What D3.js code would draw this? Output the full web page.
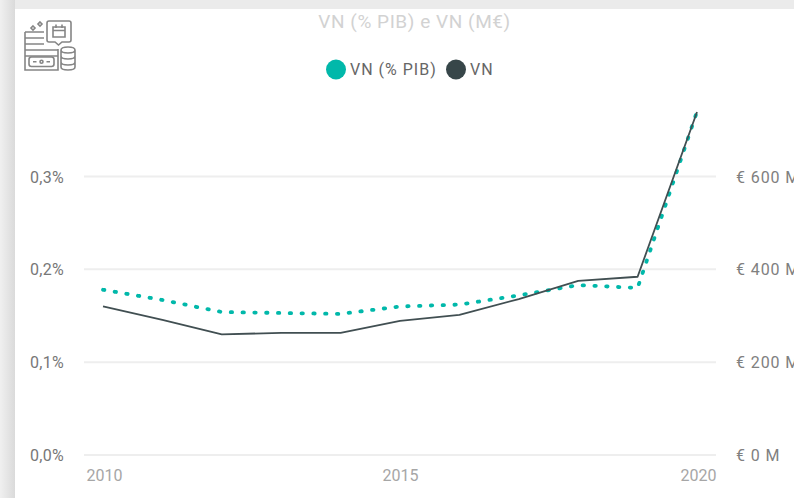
<!DOCTYPE html>
<html>
<head>
<meta charset="utf-8">
<script src="https://cdn.jsdelivr.net/npm/d3@7"></script>
<style>
  html, body { margin: 0; padding: 0; background: #fff; overflow: hidden; }
  text { font-family: Roboto, sans-serif; }
  .domain { display: none; }
</style>
</head>
<body>
<div id="chart"></div>
<script>
// valores
const years = [2010, 2011, 2012, 2013, 2014, 2015, 2016, 2017, 2018, 2019, 2020];
const vnPib = [0.178, 0.167, 0.154, 0.153, 0.152, 0.160, 0.162, 0.172, 0.183, 0.180, 0.370];
const vnMil = [320, 291, 260, 263, 263, 289, 302, 336, 375, 384, 739];
const yearTicks = [2010, 2015, 2020];
const pibTicks = [0, 0.1, 0.2, 0.3];
const pibLabels = ["0,0%", "0,1%", "0,2%", "0,3%"];
const milTicks = [0, 200, 400, 600];
const milLabels = ["€ 0 M", "€ 200 M", "€ 400 M", "€ 600 M"];
const legendNames = ["VN (% PIB)", "VN"];

const W = 794, H = 498;
const teal = "#01b8aa", dark = "#374649";

const svg = d3.select("#chart").append("svg")
  .attr("width", W)
  .attr("height", H)
  .style("display", "block");

// fundo cinza com sombra do cartao
const defs = svg.append("defs");
const grad = defs.append("linearGradient").attr("id", "shadowLeft");
grad.append("stop").attr("offset", "0%").attr("stop-color", "#f0f0f0");
grad.append("stop").attr("offset", "100%").attr("stop-color", "#dadada");

svg.append("rect").attr("width", W).attr("height", 9).attr("fill", "#ebebeb");
svg.append("rect").attr("y", 0).attr("width", 15).attr("height", H).attr("fill", "url(#shadowLeft)");

const x = d3.scaleLinear().domain([2010, 2020]).range([103, 697]);
const yPib = d3.scaleLinear().domain([0, 0.3]).range([455, 176.5]);
const yMil = d3.scaleLinear().domain([0, 600]).range([455, 176.5]);

// grelha
svg.append("g")
  .selectAll("line")
  .data(pibTicks)
  .join("line")
  .attr("x1", 84)
  .attr("x2", 716)
  .attr("y1", d => yPib(d))
  .attr("y2", d => yPib(d))
  .attr("stroke", "#eeeeee")
  .attr("stroke-width", 2);

// eixos
const axisLeft = svg.append("g")
  .attr("transform", "translate(64,0.5)")
  .call(d3.axisLeft(yPib).tickValues(pibTicks).tickSize(0).tickPadding(0)
    .tickFormat((d, i) => pibLabels[i]));
axisLeft.selectAll("text")
  .attr("font-size", 16)
  .attr("letter-spacing", 0.3)
  .attr("fill", "#777777");

const axisRight = svg.append("g")
  .attr("transform", "translate(736,0.5)")
  .call(d3.axisRight(yMil).tickValues(milTicks).tickSize(0).tickPadding(0)
    .tickFormat((d, i) => milLabels[i]));
axisRight.selectAll("text")
  .attr("font-size", 16)
  .attr("letter-spacing", 0.9)
  .attr("fill", "#808080");

const axisBottom = svg.append("g")
  .attr("transform", "translate(0,470)")
  .call(d3.axisBottom(x).tickValues(yearTicks).tickSize(0).tickPadding(0)
    .tickFormat(d3.format("d")));
axisBottom.selectAll("text")
  .attr("font-size", 16)
  .attr("fill", "#a6a6a6");
axisBottom.selectAll(".tick text").attr("dx", (d, i) => [1, 0, 1][i]);

// linhas
const linePib = d3.line().x((d, i) => x(years[i])).y(d => yPib(d));
const lineMil = d3.line().x((d, i) => x(years[i])).y(d => yMil(d));

svg.append("path")
  .datum(vnPib)
  .attr("d", linePib)
  .attr("fill", "none")
  .attr("stroke", teal)
  .attr("stroke-width", 3.8)
  .attr("stroke-linecap", "round")
  .attr("stroke-linejoin", "round")
  .attr("stroke-dasharray", "1.4 10.4");

svg.append("path")
  .datum(vnMil)
  .attr("d", lineMil)
  .attr("fill", "none")
  .attr("stroke", "#414f52")
  .attr("stroke-width", 1.8)
  .attr("stroke-linejoin", "round");

// titulo
svg.append("text")
  .attr("x", 414.5)
  .attr("y", 28)
  .attr("text-anchor", "middle")
  .attr("font-size", 19)
  .attr("letter-spacing", 0.55)
  .attr("fill", "#d2d2d2")
  .text("VN (% PIB) e VN (M€)");

// legenda
const legendX = [336, 456];
const legendColors = [teal, dark];
const legend = svg.append("g")
  .selectAll("g")
  .data(legendNames)
  .join("g")
  .attr("transform", (d, i) => `translate(${legendX[i]},69.5)`);
legend.append("circle")
  .attr("r", 10)
  .attr("fill", (d, i) => legendColors[i]);
legend.append("text")
  .attr("x", 14)
  .attr("y", 5.5)
  .attr("font-size", 16)
  .attr("letter-spacing", 1)
  .attr("fill", "#666666")
  .text(d => d);

// icone
const icon = svg.append("g")
  .attr("transform", "translate(24,20)")
  .attr("fill", "none")
  .attr("stroke", "#858585")
  .attr("stroke-width", 1.6);
icon.append("path").attr("d", "M1 12 H20 M1 12 V50 H34 V29 M1 18 H20 M1 24 H20 M1 30 H34 M1 36 H34");
icon.append("path").attr("d", "M25 1 H45 Q47 1 47 3 V20 Q47 22 45 22 H38 L34.5 25 L31 22 H25 Q23 22 23 20 V3 Q23 1 25 1 Z");
icon.append("path").attr("d", "M29 7 H41 V17 H29 Z M29 10.5 H41 M32 4.5 V8 M38 4.5 V8");
icon.append("rect").attr("x", 5).attr("y", 37).attr("width", 25).attr("height", 9.5).attr("rx", 2.5);
icon.append("circle").attr("cx", 17.5).attr("cy", 41.7).attr("r", 1.5);
icon.append("path").attr("d", "M9 41.7 H12.5 M22.5 41.7 H26");
icon.append("path").attr("d", "M37 30 Q37 27 44 27 Q51 27 51 30 V47 Q51 50 44 50 Q37 50 37 47 Z M37 30 Q37 33 44 33 Q51 33 51 30 M37 36 Q37 39 44 39 Q51 39 51 36 M37 42 Q37 45 44 45 Q51 45 51 42");
icon.append("path").attr("d", "M9 6 L11 8 L9 10 L7 8 Z M16 2 L18 4 L16 6 L14 4 Z");
</script>
</body>
</html>
